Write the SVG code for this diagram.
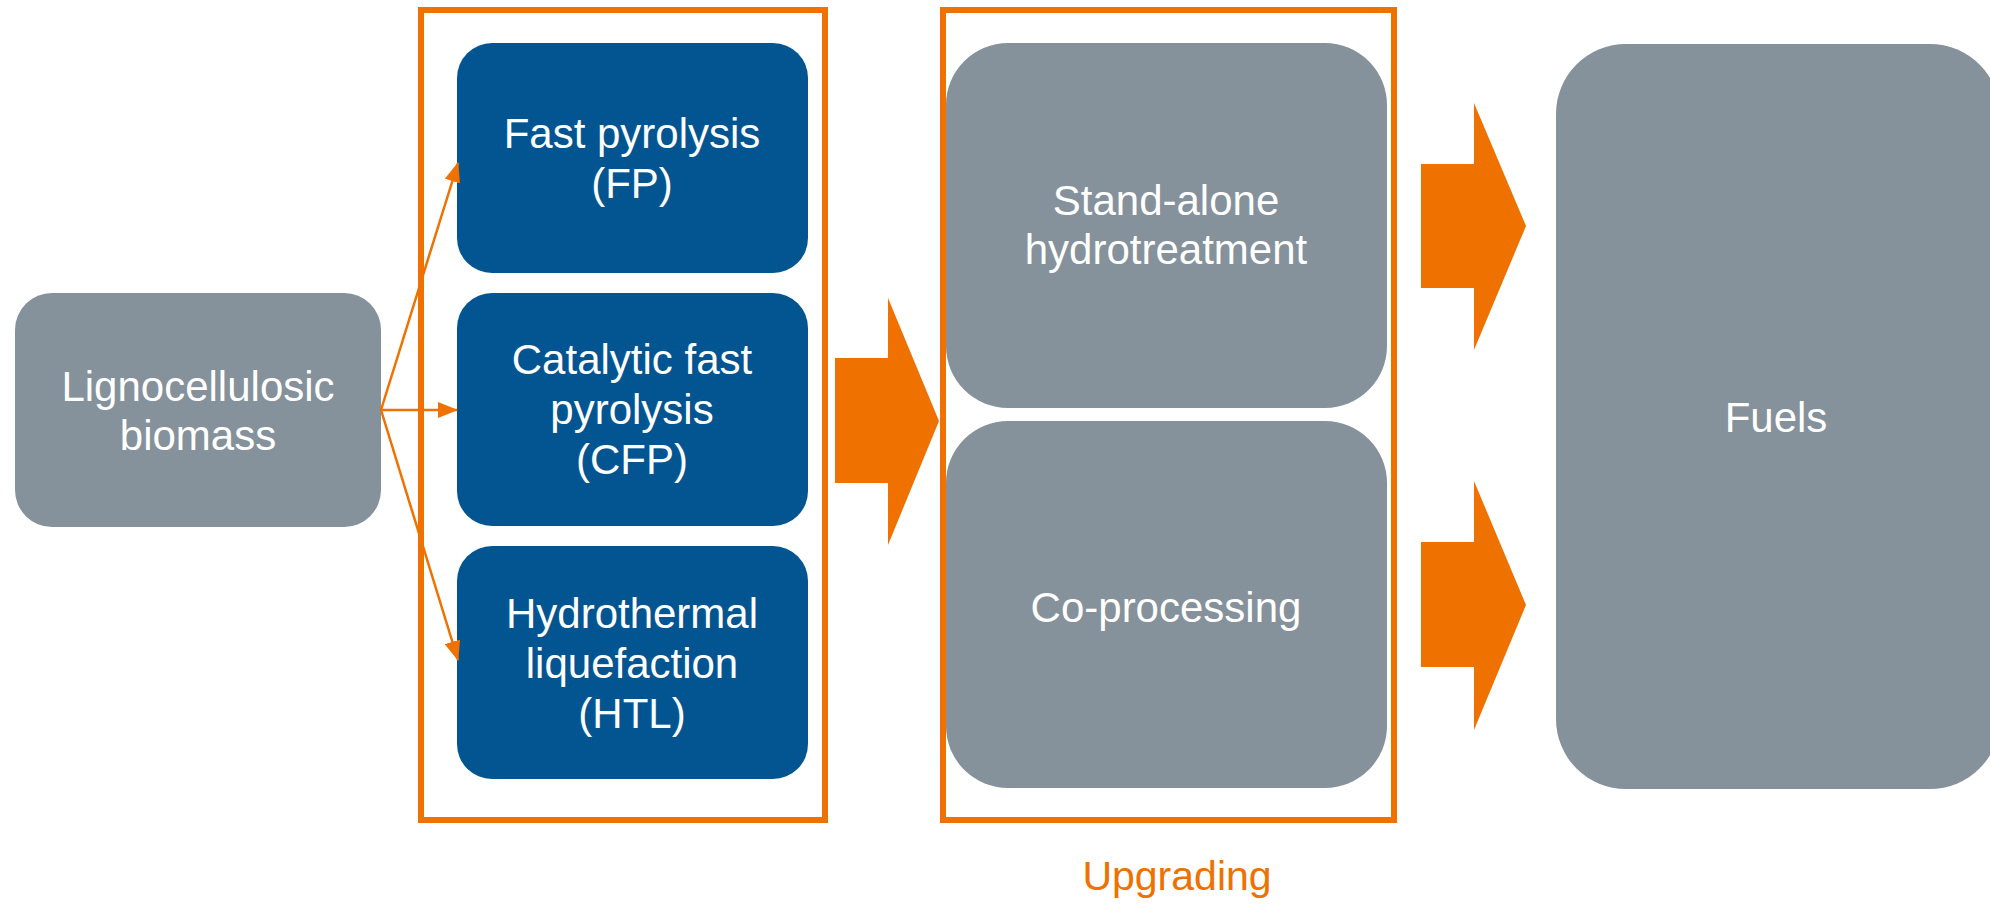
<svg xmlns="http://www.w3.org/2000/svg" width="1990" height="905" viewBox="0 0 1990 905">
  <style>
    .lbl { font-family: "Liberation Sans", Arial, sans-serif; font-size: 42px; fill: #ffffff; text-anchor: middle; }
    .grey { fill: #85919b; }
    .blue { fill: #035592; }
    .frame { fill: none; stroke: #ef7100; stroke-width: 6; }
    .thin { stroke: #ef7100; stroke-width: 2.5; fill: none; marker-end: url(#tip); }
    .block { fill: #ef7100; }
    .caption { font-family: "Liberation Sans", Arial, sans-serif; font-size: 41px; fill: #ef7100; text-anchor: middle; }
  </style>
  <defs>
    <marker id="tip" markerUnits="userSpaceOnUse" markerWidth="20" markerHeight="16" viewBox="0 0 20 16" refX="19" refY="8" orient="auto">
      <path d="M0,0 L20,8 L0,16 z" fill="#ef7100"/>
    </marker>
  </defs>

  <rect width="1990" height="905" fill="#ffffff"/>

  <!-- conversion and upgrading frames -->
  <g id="conversion-frame">
    <rect class="frame" x="421" y="10" width="404" height="810"/>
  </g>
  <g id="upgrading-frame">
    <rect class="frame" x="943" y="10" width="451" height="810"/>
    <text class="caption" x="1177" y="890">Upgrading</text>
  </g>

  <!-- feedstock -->
  <g id="biomass">
    <rect class="grey" x="15" y="293" width="366" height="234" rx="37" ry="37"/>
    <text class="lbl" x="198" y="401">Lignocellulosic</text>
    <text class="lbl" x="198" y="450">biomass</text>
  </g>

  <!-- conversion routes -->
  <g id="fp">
    <rect class="blue" x="457" y="43" width="351" height="230" rx="35" ry="35"/>
    <text class="lbl" x="632" y="148">Fast pyrolysis</text>
    <text class="lbl" x="632" y="198">(FP)</text>
  </g>
  <g id="cfp">
    <rect class="blue" x="457" y="293" width="351" height="233" rx="35" ry="35"/>
    <text class="lbl" x="632" y="374">Catalytic fast</text>
    <text class="lbl" x="632" y="424">pyrolysis</text>
    <text class="lbl" x="632" y="474">(CFP)</text>
  </g>
  <g id="htl">
    <rect class="blue" x="457" y="546" width="351" height="233" rx="35" ry="35"/>
    <text class="lbl" x="632" y="628">Hydrothermal</text>
    <text class="lbl" x="632" y="678">liquefaction</text>
    <text class="lbl" x="632" y="728">(HTL)</text>
  </g>

  <!-- upgrading options -->
  <g id="standalone">
    <rect class="grey" x="946" y="43" width="441" height="365" rx="62" ry="62"/>
    <text class="lbl" x="1166" y="215">Stand-alone</text>
    <text class="lbl" x="1166" y="264">hydrotreatment</text>
  </g>
  <g id="coprocessing">
    <rect class="grey" x="946" y="421" width="441" height="367" rx="62" ry="62"/>
    <text class="lbl" x="1166" y="622">Co-processing</text>
  </g>

  <!-- product -->
  <g id="fuels">
    <rect class="grey" x="1556" y="44" width="444" height="745" rx="70" ry="70"/>
    <text class="lbl" x="1776" y="432">Fuels</text>
  </g>

  <!-- connectors -->
  <g id="connectors">
    <line class="thin" x1="381" y1="410" x2="458" y2="163"/>
    <line class="thin" x1="381" y1="410" x2="457" y2="410"/>
    <line class="thin" x1="381" y1="410" x2="458" y2="660"/>
    <polygon class="block" points="835,358 888,358 888,298 939,421 888,545 888,483 835,483"/>
    <polygon class="block" points="1421,164 1474,164 1474,103 1526,226 1474,350 1474,288 1421,288"/>
    <polygon class="block" points="1421,542 1474,542 1474,481 1526,605 1474,730 1474,667 1421,667"/>
  </g>
</svg>
